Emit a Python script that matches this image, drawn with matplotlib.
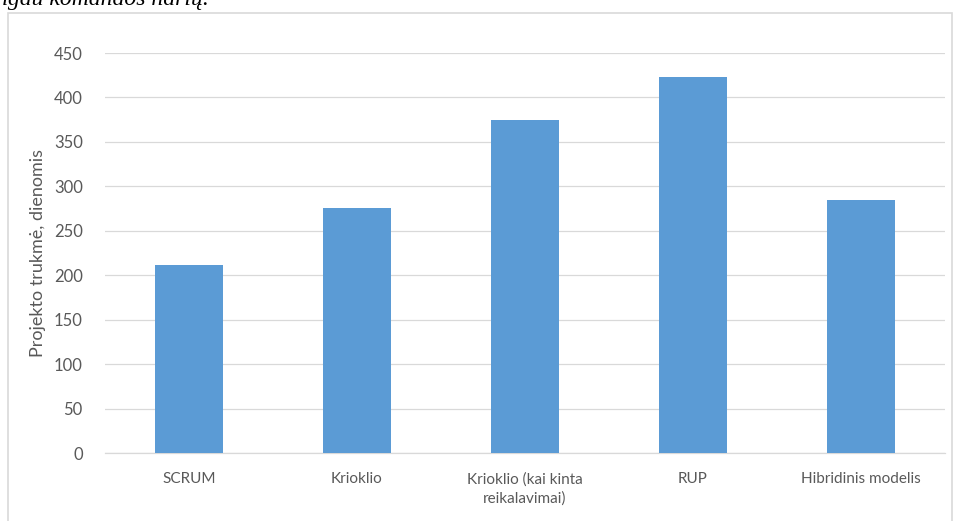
import matplotlib.pyplot as plt
import matplotlib.patches as patches
import numpy as np

categories = ['SCRUM', 'Krioklio', 'Krioklio (kai kinta\nreikalavimai)', 'RUP', 'Hibridinis modelis']
durations = [212, 276, 375, 423, 285]
y_ticks = [0, 50, 100, 150, 200, 250, 300, 350, 400, 450]

plt.rcParams['font.family'] = ['Lato', 'DejaVu Sans']

fig = plt.figure(figsize=(9.54, 5.21), dpi=100)
ax = fig.add_axes([105/954, 1 - 453/521, 840/954, 400/521])

x = np.arange(len(categories))
ax.bar(x, durations, width=0.4, color='#5B9BD5', zorder=3)

ax.set_xlim(-0.5, len(categories) - 0.5)
ax.set_ylim(0, 450)
ax.set_yticks(y_ticks)
ax.set_xticks(x)
ax.set_xticklabels(categories, fontsize=11, color='#595959', linespacing=1.4)
ax.tick_params(axis='y', labelsize=12, labelcolor='#595959', length=0, pad=16)
ax.tick_params(axis='x', length=0, pad=14)
ax.grid(axis='y', color='#D9D9D9', linewidth=0.9, zorder=0)
for s in ['top', 'right', 'left']:
    ax.spines[s].set_visible(False)
ax.spines['bottom'].set_color('#D9D9D9')
ax.spines['bottom'].set_linewidth(0.9)

ax.set_ylabel('Projekto trukmė, dienomis', fontsize=13, color='#595959', labelpad=6)

# outer chart frame
frame = patches.Rectangle((8/954, -0.05), 944/954, 1.05 - 13/521, transform=fig.transFigure,
                          fill=False, edgecolor='#D9D9D9', linewidth=1.2)
fig.patches.append(frame)

# cut-off caption from the document above the chart
fig.text(-4/954, 1 + 1/521, 'ngau komandos narių.', family='Liberation Serif', style='italic',
         fontsize=17, va='center', ha='left', color='black')

fig.savefig('out.png', dpi=100)
